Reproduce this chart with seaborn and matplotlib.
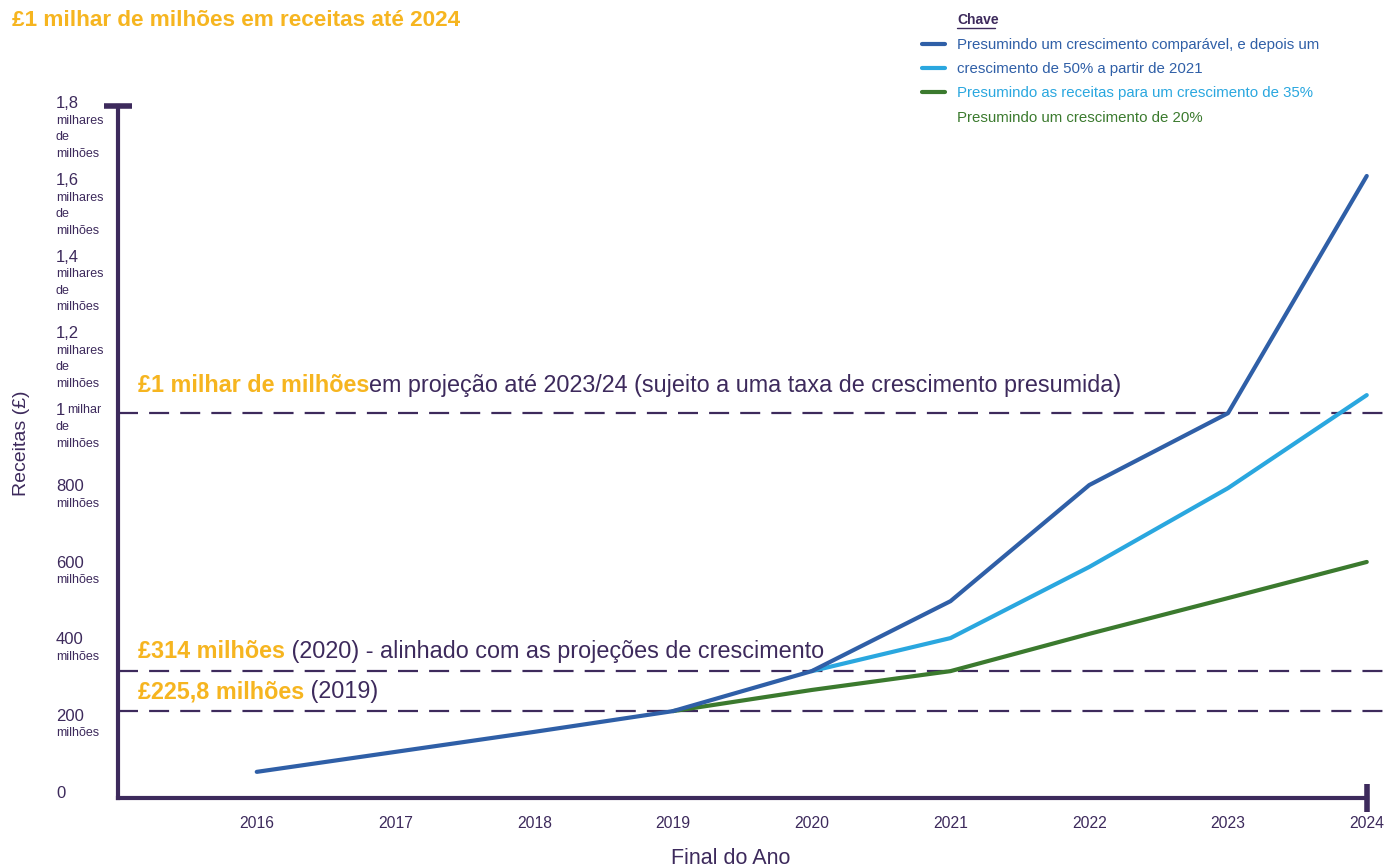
import matplotlib.pyplot as plt
import seaborn as sns
from matplotlib.lines import Line2D

# data (millions of £)
years = [2016, 2017, 2018, 2019, 2020, 2021, 2022, 2023, 2024]
comparable = [68, 120, 172, 226, 330, 512, 814, 1001, 1618]
years_35 = [2020, 2021, 2022, 2023, 2024]
growth_35 = [330, 416, 601, 806, 1048]
years_20 = [2019, 2020, 2021, 2022, 2023, 2024]
growth_20 = [226, 281, 330, 427, 520, 614]

ref_lines = [1001, 330, 226]
ytick_vals = [0, 200, 400, 600, 800, 1000, 1200, 1400, 1600, 1800]
ytick_nums = ["0", "200", "400", "600", "800", "1", "1,2", "1,4", "1,6", "1,8"]
ytick_subs = ["", "milhões", "milhões", "milhões", "milhões", "de\nmilhões",
              "milhares\nde\nmilhões", "milhares\nde\nmilhões",
              "milhares\nde\nmilhões", "milhares\nde\nmilhões"]

PURPLE = "#3d2a5c"
ORANGE = "#f6b520"
DBLUE = "#2f5fa7"
LBLUE = "#2aa7df"
GREEN = "#3b7a2e"

sns.set_theme(style="white")
plt.rcParams["font.family"] = ["Liberation Sans", "DejaVu Sans"]

fig = plt.figure(figsize=(13.89, 8.66), dpi=100)
ax = fig.add_axes([118 / 1389, 68 / 866, (1383 - 118) / 1389, (798 - 106) / 866])
ax.set_xlim(2015, 2015 + (1383 - 118) / 138.75)
ax.set_ylim(0, 1800)

# reference dashed lines
for v in ref_lines:
    ax.axhline(v, color=PURPLE, lw=1.6, ls=(0, (9, 5)), zorder=1)

sns.lineplot(x=years_20, y=growth_20, color=GREEN, lw=3, ax=ax, zorder=3)
sns.lineplot(x=years_35, y=growth_35, color=LBLUE, lw=3, ax=ax, zorder=4)
sns.lineplot(x=years, y=comparable, color=DBLUE, lw=3, ax=ax, zorder=5)

# axes styling
for s in ["top", "right"]:
    ax.spines[s].set_visible(False)
for s in ["left", "bottom"]:
    ax.spines[s].set_color(PURPLE)
    ax.spines[s].set_linewidth(3)
ax.spines["bottom"].set_bounds(2015, 2024)
ax.plot([2015], [1800], marker="_", ms=20, mew=4, color=PURPLE, clip_on=False)
ax.plot([2024], [0], marker="|", ms=20, mew=4, color=PURPLE, clip_on=False)

ax.set_xticks(years)
ax.set_xticklabels([str(y) for y in years])
ax.tick_params(axis="x", length=0, pad=13, labelsize=11.3, labelcolor=PURPLE)
ax.set_yticks([])
ax.set_xlabel("")
ax.set_ylabel("")

# y tick labels (number + small unit text)
for v, num, sub in zip(ytick_vals, ytick_nums, ytick_subs):
    yp = 1 - (798 - v * 689 / 1800 - 5) / 866
    fig.text(56 / 1389, yp, num, fontsize=12, color=PURPLE, va="center", ha="left")
    if v == 1000:
        fig.text(67 / 1389, yp, "milhar", fontsize=9, color=PURPLE, va="center", ha="left")
    if sub:
        fig.text(56 / 1389, yp - 11 / 866, sub, fontsize=9, color=PURPLE, va="top",
                 ha="left", linespacing=1.5)

fig.text(22 / 1389, 1 - 443 / 866, "Receitas (£)", rotation=90, fontsize=14,
         color=PURPLE, va="center", ha="center")
fig.text(731 / 1389, 1 - 858 / 866, "Final do Ano", fontsize=15.5,
         color=PURPLE, va="center", ha="center")

# title
fig.text(12 / 1389, 1 - 21 / 866, "£1 milhar de milhões em receitas até 2024",
         fontsize=16.2, fontweight="bold", color=ORANGE, va="center", ha="left")

# annotations
notes = [
    (1044, "£1 milhar de milhões", "em projeção até 2023/24 (sujeito a uma taxa de crescimento presumida)"),
    (352, "£314 milhões", " (2020) - alinhado com as projeções de crescimento"),
    (246, "£225,8 milhões", " (2019)"),
]
for yv, bold, rest in notes:
    t1 = ax.text(2015.144, yv, bold, fontsize=16.8, fontweight="bold", color=ORANGE,
                 va="bottom", ha="left")
    ax.annotate(rest, xy=(1, 0), xycoords=t1, fontsize=16.8, color=PURPLE,
                va="bottom", ha="left")

# legend ("Chave")
fig.text(957 / 1389, 1 - 20 / 866, "Chave", fontsize=10, fontweight="bold",
         color=PURPLE, va="center", ha="left")
fig.add_artist(Line2D([957 / 1389, 995 / 1389], [1 - 28 / 866] * 2, color=PURPLE, lw=1))
for i, c in enumerate([DBLUE, LBLUE, GREEN]):
    yy = 1 - (44 + 24 * i) / 866
    fig.add_artist(Line2D([922 / 1389, 945 / 1389], [yy, yy], color=c, lw=3))
leg_texts = [
    ("Presumindo um crescimento comparável, e depois um", DBLUE),
    ("crescimento de 50% a partir de 2021", DBLUE),
    ("Presumindo as receitas para um crescimento de 35%", LBLUE),
    ("Presumindo um crescimento de 20%", GREEN),
]
for i, (txt, c) in enumerate(leg_texts):
    fig.text(957 / 1389, 1 - (45.5 + 24 * i) / 866, txt, fontsize=10.8, color=c,
             va="center", ha="left")

fig.savefig("out.png", dpi=100)
